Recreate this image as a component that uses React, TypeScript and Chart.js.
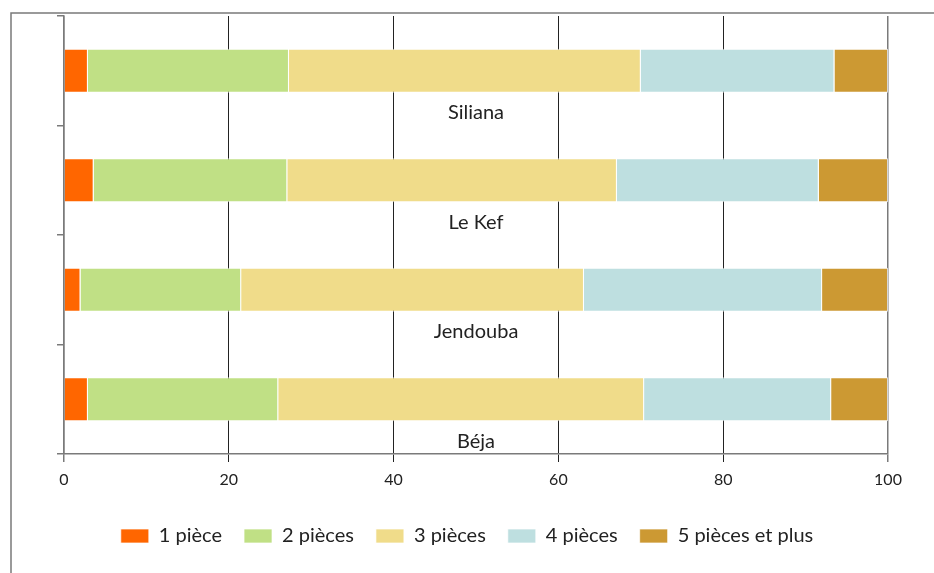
import React, { useEffect, useRef } from "react";
import { Chart, registerables } from "chart.js";
Chart.register(...registerables);

const categories = ["Siliana", "Le Kef", "Jendouba", "Béja"];
const seriesNames = ["1 pièce", "2 pièces", "3 pièces", "4 pièces", "5 pièces et plus"];
const onePiece = [2.9, 3.6, 2.0, 2.9];
const twoPieces = [24.4, 23.5, 19.5, 23.1];
const threePieces = [42.7, 40.0, 41.6, 44.4];
const fourPieces = [23.5, 24.5, 28.9, 22.7];
const fivePlus = [6.5, 8.4, 8.0, 6.9];
const xTicks = [0, 20, 40, 60, 80, 100];
const colors = ["#FF6600", "#C0E085", "#F0DC8A", "#BEDFE0", "#CC9933"];

const FONT = "Lato, 'DejaVu Sans', sans-serif";
const EDGE = "#7a7a7a";

const framePlugin = {
  id: "frame",
  afterDraw(chart: any) {
    const ctx = chart.ctx;
    ctx.save();
    ctx.strokeStyle = EDGE;
    ctx.lineWidth = 1.5;
    ctx.beginPath();
    ctx.moveTo(chart.width, 13);
    ctx.lineTo(11, 13);
    ctx.lineTo(11, chart.height);
    ctx.stroke();
    ctx.restore();
  },
};

const categoryLabelPlugin = {
  id: "catLabels",
  afterDatasetsDraw(chart: any) {
    const ctx = chart.ctx;
    const meta = chart.getDatasetMeta(0);
    const area = chart.chartArea;
    const cx = (area.left + area.right) / 2;
    ctx.save();
    ctx.font = "20px " + FONT;
    ctx.fillStyle = "#222";
    ctx.textAlign = "center";
    ctx.textBaseline = "middle";
    categories.forEach((label, i) => {
      const el = meta.data[i];
      if (!el) return;
      const y = el.y + el.height / 2 + 20;
      ctx.fillText(label, cx, y);
    });
    ctx.restore();
  },
};

export default function App() {
  const ref = useRef<HTMLCanvasElement>(null);
  useEffect(() => {
    if (!ref.current) return;
    const series = [onePiece, twoPieces, threePieces, fourPieces, fivePlus];
    const chart = new Chart(ref.current, {
      type: "bar",
      data: {
        labels: categories,
        datasets: series.map((d, i) => ({
          label: seriesNames[i],
          data: d,
          backgroundColor: colors[i],
          borderColor: "rgba(255,255,255,0.7)",
          borderWidth: 1,
          barPercentage: 0.4,
          categoryPercentage: 1,
        })),
      },
      options: {
        indexAxis: "y",
        responsive: false,
        animation: false,
        layout: { padding: { top: 16, left: 23, right: 23, bottom: 17 } },
        plugins: {
          tooltip: { enabled: false },
          legend: {
            position: "bottom",
            labels: {
              boxWidth: 28,
              boxHeight: 14,
              padding: 22,
              color: "#222",
              font: { size: 20, family: FONT },
            },
          },
        },
        scales: {
          x: {
            stacked: true,
            min: 0,
            max: 100,
            afterBuildTicks(s: any) {
              s.ticks = xTicks.map((v) => ({ value: v }));
            },
            afterFit(s: any) {
              s.height = 50;
            },
            grid: {
              color: (c: any) =>
                c.tick && (c.tick.value === 0 || c.tick.value === 100) ? EDGE : "#222",
              lineWidth: (c: any) =>
                c.tick && (c.tick.value === 0 || c.tick.value === 100) ? 1.5 : 1,
              tickLength: 8,
              drawTicks: true,
            },
            border: { color: EDGE, width: 1.5 },
            ticks: {
              padding: 8,
              color: "#222",
              font: { size: 16, family: FONT },
              maxRotation: 0,
            },
          },
          y: {
            stacked: true,
            afterFit(s: any) {
              s.width = 41;
            },
            grid: {
              offset: true,
              drawOnChartArea: false,
              drawTicks: true,
              tickLength: 7,
              color: EDGE,
              lineWidth: 1.5,
            },
            border: { color: EDGE, width: 1.5 },
            ticks: { display: false },
          },
          y2: {
            type: "category",
            position: "right",
            display: true,
            afterFit(s: any) {
              s.width = 23;
            },
            grid: { display: false, drawTicks: false },
            border: { display: false },
            ticks: { display: false },
          },
        },
      },
      plugins: [categoryLabelPlugin, framePlugin],
    } as any);
    return () => chart.destroy();
  }, []);
  return (
    <div style={{ position: "fixed", left: 0, top: 0, width: 934, height: 573, background: "#fff" }}>
      <canvas ref={ref} width={934} height={573} style={{ display: "block" }} />
    </div>
  );
}
